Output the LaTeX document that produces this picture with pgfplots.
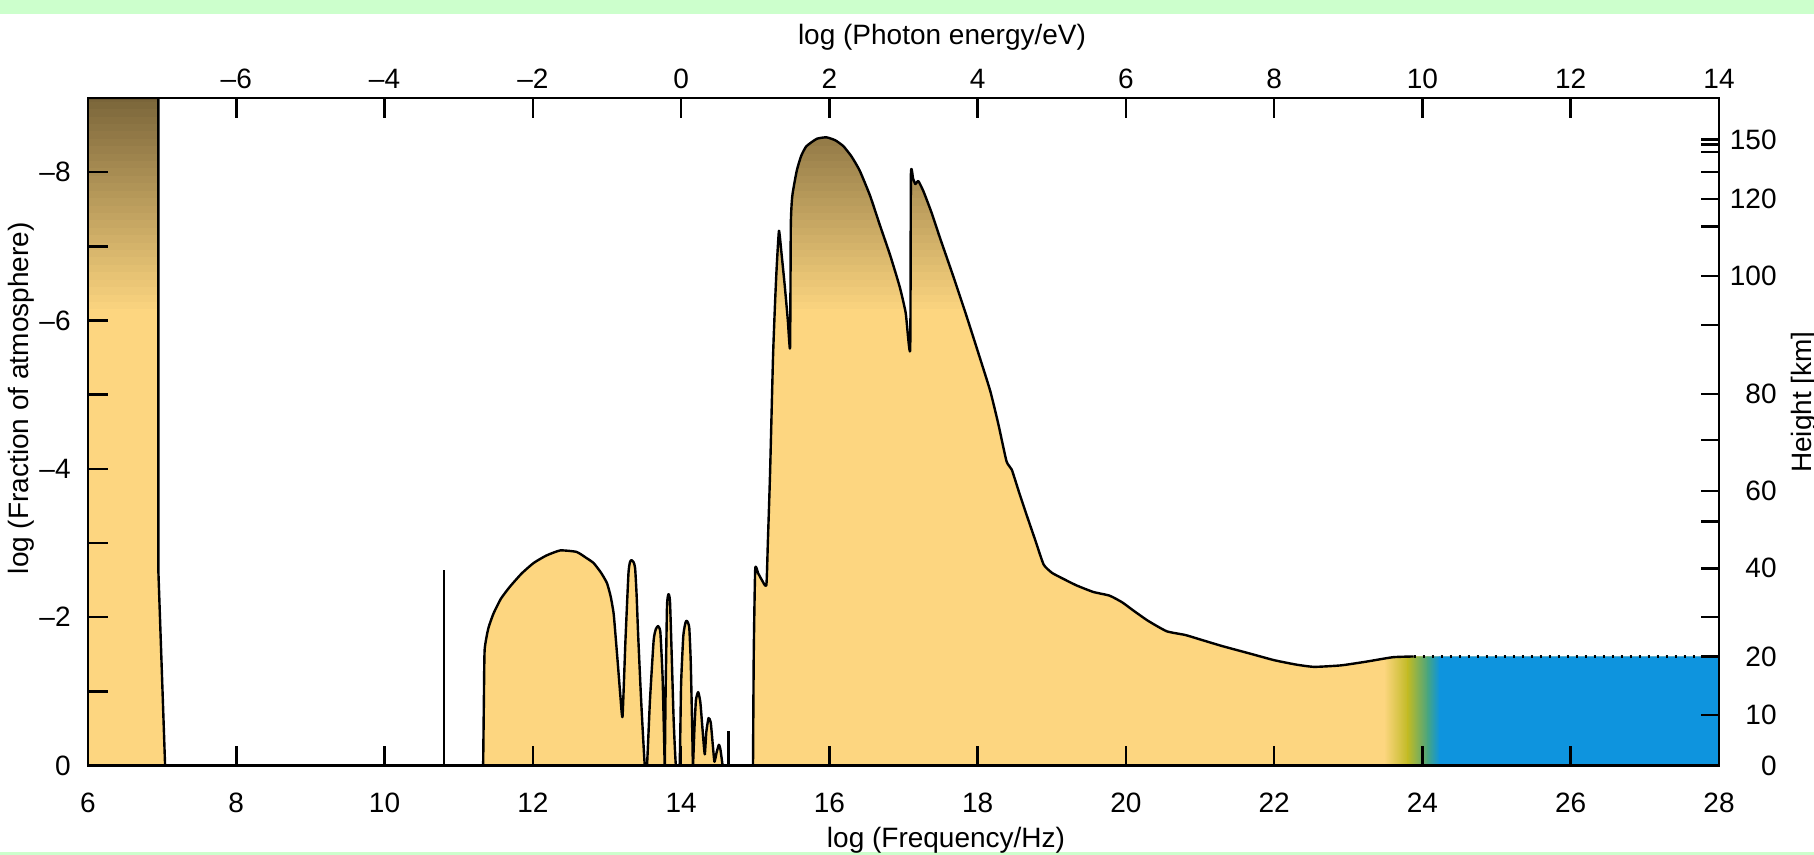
\documentclass[border=0pt]{standalone}
\usepackage{pgfplots}
\pgfplotsset{compat=1.18}
\usepackage{pgfplotstable}
\usepackage{fontspec}
\setmainfont{Liberation Sans}

\definecolor{fillY}{RGB}{253,214,128}
\definecolor{darkB}{RGB}{122,101,58}
\definecolor{oliveC}{RGB}{192,186,36}
\definecolor{greenT}{RGB}{70,165,130}
\definecolor{skyB}{RGB}{14,148,222}
\definecolor{bgG}{RGB}{204,255,204}

\pgfplotstableread{
x y
6 -9
6.95 -9
6.95 -2.6
7.04 0
}\bandA

\pgfplotstableread{
x y
10.8 0
10.8 -2.63
}\spikeA

\pgfplotstableread{
x y
14.64 0
14.64 -0.46
}\spikeB

\pgfplotstableread{
x y
11.33 0
11.34 -0.88
11.35 -1.56
11.40 -1.85
11.47 -2.05
11.57 -2.25
11.69 -2.41
11.85 -2.59
12.01 -2.73
12.18 -2.83
12.37 -2.90
12.59 -2.88
12.72 -2.80
12.82 -2.73
12.92 -2.60
13.00 -2.46
13.05 -2.28
13.09 -2.05
13.12 -1.70
13.15 -1.33
13.18 -0.95
13.21 -0.66
13.25 -1.70
13.29 -2.59
13.31 -2.74
13.33 -2.77
13.36 -2.74
13.38 -2.66
13.40 -2.30
13.42 -1.78
13.46 -0.90
13.51 0
13.54 0
13.58 -0.88
13.63 -1.69
13.66 -1.84
13.69 -1.88
13.72 -1.80
13.75 -1.20
13.77 -0.40
13.78 0
13.79 -0.90
13.81 -2.15
13.83 -2.31
13.85 -2.22
13.87 -1.60
13.90 -0.60
13.93 0
13.98 0
14.00 -1.10
14.03 -1.75
14.06 -1.93
14.08 -1.95
14.11 -1.86
14.13 -1.40
14.15 -0.50
14.16 0
14.18 -0.50
14.20 -0.88
14.23 -0.99
14.26 -0.85
14.30 -0.35
14.32 -0.15
14.34 -0.45
14.37 -0.64
14.40 -0.58
14.43 -0.25
14.45 -0.05
14.48 -0.18
14.51 -0.28
14.53 -0.22
14.56 0
}\irband

\pgfplotstableread{
x y
14.97 0
14.98 -1.50
15.00 -2.65
15.04 -2.59
15.09 -2.50
15.15 -2.43
15.17 -3.00
15.20 -3.94
15.24 -5.51
15.27 -6.30
15.29 -6.73
15.32 -7.21
15.35 -6.95
15.40 -6.45
15.44 -6.00
15.47 -5.64
15.48 -7.29
15.50 -7.68
15.56 -8.02
15.62 -8.22
15.69 -8.35
15.83 -8.45
15.96 -8.47
16.08 -8.43
16.19 -8.35
16.30 -8.21
16.41 -8.02
16.55 -7.68
16.68 -7.29
16.82 -6.88
16.95 -6.45
17.03 -6.10
17.09 -5.61
17.10 -7.97
17.13 -7.91
17.16 -7.84
17.20 -7.88
17.27 -7.74
17.38 -7.45
17.49 -7.12
17.67 -6.60
17.85 -6.06
18.01 -5.56
18.17 -5.05
18.28 -4.60
18.39 -4.10
18.46 -3.99
18.56 -3.68
18.66 -3.38
18.78 -3.03
18.89 -2.71
19.00 -2.60
19.11 -2.54
19.33 -2.43
19.56 -2.34
19.78 -2.29
19.95 -2.20
20.10 -2.09
20.30 -1.95
20.55 -1.81
20.80 -1.76
21.00 -1.70
21.30 -1.61
21.67 -1.51
22.00 -1.42
22.30 -1.36
22.54 -1.33
22.90 -1.35
23.24 -1.40
23.60 -1.46
23.88 -1.47
28.00 -1.47
}\uvband

\tikzset{
  gfill/.style={draw=none, fill=fillY, path picture={
    \foreach \i in {0,...,29}{
      \pgfmathsetmacro{\ya}{-9.05+\i*0.1}
      \pgfmathsetmacro{\yb}{-8.94+\i*0.1}
      \pgfmathsetmacro{\pp}{\i*100/29}
      \fill[path picture={}, fillY!\pp!darkB] (axis cs:5,\ya) rectangle (axis cs:29,\yb);
    }
    \fill[path picture={}, left color=fillY, right color=oliveC] (axis cs:23.48,-9) rectangle (axis cs:23.81,0.2);
    \fill[path picture={}, left color=oliveC, right color=greenT] (axis cs:23.80,-9) rectangle (axis cs:24.08,0.2);
    \fill[path picture={}, left color=greenT, right color=skyB] (axis cs:24.07,-9) rectangle (axis cs:24.23,0.2);
    \fill[path picture={}, skyB] (axis cs:24.22,-9) rectangle (axis cs:29,0.2);
  }},
  cline/.style={black, line width=1.2pt, line join=round}
}

\begin{document}
\begin{tikzpicture}
\fill[bgG] (-44pt,375.75pt) rectangle (863pt,382.75pt);
\fill[bgG] (-44pt,-44.75pt) rectangle (863pt,-43.25pt);

\pgfplotsset{
  common/.style={
    at={(0pt,0pt)}, anchor=south west,
    scale only axis, width=815.5pt, height=333.75pt,
    ymin=-9, ymax=0, y dir=reverse,
    tick align=inside,
    major tick length=10pt,
    every tick/.style={black, line width=1.3pt},
    axis line style={black, line width=1.3pt},
    ticklabel style={font=\fontsize{14}{16}\selectfont, inner sep=0pt},
  }
}

% main axis
\begin{axis}[common,
  xmin=6, xmax=28,
  axis on top,
  xtick={6,8,10,12,14,16,18,20,22,24,26,28},
  xticklabels={6,8,10,12,14,16,18,20,22,24,26,28},
  xtick pos=left,
  xticklabel style={anchor=base, yshift=-23.25pt},
  ytick={-8,-7,-6,-5,-4,-3,-2,-1,0},
  yticklabels={–8,,–6,,–4,,–2,,0},
  ytick pos=left,
  yticklabel style={anchor=east, xshift=-8.5pt},
]
\addplot[gfill] table {\bandA} \closedcycle;
\addplot[gfill, smooth, tension=0.3] table {\irband} \closedcycle;
\addplot[gfill, smooth, tension=0.3] table {\uvband} \closedcycle;

\addplot[cline] table {\bandA};
\addplot[cline, smooth, tension=0.3] table {\irband};
\addplot[cline, smooth, tension=0.3, restrict x to domain=14:23.9] table {\uvband};
\addplot[black, line width=1.2pt, dash pattern=on 1.2pt off 3.3pt, restrict x to domain=23.85:28.1] table {\uvband};
\addplot[black, line width=1.1pt] table {\spikeA};
\addplot[black, line width=1.1pt] table {\spikeB};
\end{axis}

% axis titles (axis frame: 815.5pt x 333.75pt at the origin)
\node[anchor=base, font=\fontsize{14}{16}\selectfont] at (429pt,-40.8pt) {log (Frequency/Hz)};
\node[anchor=base, font=\fontsize{14}{16}\selectfont] at (427pt,360.4pt) {log (Photon energy/eV)};
\node[anchor=base, rotate=90, font=\fontsize{14}{16}\selectfont] at (-29.5pt,183.6pt) {log (Fraction of atmosphere)};
\node[anchor=base, rotate=90, font=\fontsize{14}{16}\selectfont] at (861.8pt,181.7pt) {Height [km]};

% top axis: photon energy
\begin{axis}[common,
  xmin=-8, xmax=14,
  hide y axis,
  xtick={-6,-4,-2,0,2,4,6,8,10,12,14},
  xticklabels={–6,–4,–2,0,2,4,6,8,10,12,14},
  xtick pos=right,
  xticklabel style={anchor=base, yshift=5pt},
]
\end{axis}

% right axis: height
\begin{axis}[common,
  xmin=6, xmax=28,
  hide x axis,
  major tick length=9pt,
  ytick={-8.44,-8.37,-8.27,-8.00,-7.64,-7.27,-6.60,-5.94,-5.01,-4.39,-3.70,-3.29,-2.66,-2.00,-1.47,-0.68,0},
  yticklabels={150,,,,120,,100,,80,,60,,40,,20,10,0},
  ytick pos=right,
  yticklabel style={anchor=east, xshift=29pt},
]
\end{axis}

\pgfresetboundingbox
\path[use as bounding box] (-44pt,-44.75pt) rectangle (863pt,382.75pt);
\end{tikzpicture}
\end{document}
